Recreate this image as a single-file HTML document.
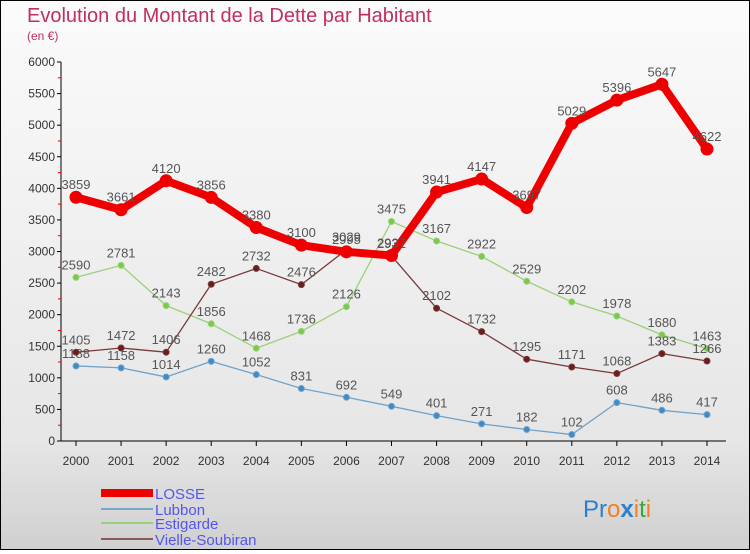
<!DOCTYPE html>
<html><head><meta charset="utf-8"><style>
body{margin:0;width:750px;height:550px;overflow:hidden;font-family:"Liberation Sans",sans-serif;}
#root{position:relative;width:748px;height:548px;border:1px solid #000;background:linear-gradient(#fbfbfb,#e6e6e6 80%,#d0d0d0);}
</style></head><body>
<div id="root">
<svg id="svg" width="748" height="548" xmlns="http://www.w3.org/2000/svg">
<text x="26" y="21" font-size="20" fill="#c0305a">Evolution du Montant de la Dette par Habitant</text>
<text x="26" y="39" font-size="12" fill="#c0305a">(en €)</text>
<g id="axes"></g><g id="series"></g>
<g>
<rect x="100" y="488" width="52" height="8" fill="#e00"/>
<text x="154" y="498" font-size="15" fill="#5555ee">LOSSE</text>
<line x1="100" y1="508" x2="152" y2="508" stroke="#7aa8c8" stroke-width="2"/>
<text x="154" y="514" font-size="15" fill="#5555ee">Lubbon</text>
<line x1="100" y1="522" x2="152" y2="522" stroke="#99d17a" stroke-width="2"/>
<text x="154" y="528" font-size="15" fill="#5555ee">Estigarde</text>
<line x1="100" y1="538" x2="152" y2="538" stroke="#8a5a5a" stroke-width="2"/>
<text x="154" y="544" font-size="15" fill="#5555ee">Vielle-Soubiran</text>
</g>
<g font-size="24" font-family="'Liberation Sans',sans-serif">
<text x="582" y="516"><tspan fill="#2a7fd0">Pr</tspan><tspan fill="#f08020">o</tspan><tspan fill="#2a7fd0" font-weight="bold">x</tspan><tspan fill="#f08020">i</tspan><tspan fill="#38a838">t</tspan><tspan fill="#f08020">i</tspan></text>
</g>
</svg>
</div>
<script>
const years=["2000","2001","2002","2003","2004","2005","2006","2007","2008","2009","2010","2011","2012","2013","2014"];
const yTicks=[0,500,1000,1500,2000,2500,3000,3500,4000,4500,5000,5500,6000];
const losse=[3859,3661,4120,3856,3380,3100,2995,2937,3941,4147,3697,5029,5396,5647,4622];
const lubbon=[1188,1158,1014,1260,1052,831,692,549,401,271,182,102,608,486,417];
const estigarde=[2590,2781,2143,1856,1468,1736,2126,3475,3167,2922,2529,2202,1978,1680,1463];
const vielle=[1405,1472,1406,2482,2732,2476,3029,2931,2102,1732,1295,1171,1068,1383,1266];
const NS="http://www.w3.org/2000/svg";
const X=i=>75+i*(706-75)/14;
const Y=v=>440-v*(440-61)/6000;
function mk(t,a,p){const e=document.createElementNS(NS,t);for(const k in a)e.setAttribute(k,a[k]);p.appendChild(e);return e;}
const ax=document.getElementById('axes');
mk('line',{x1:60,y1:Y(6000),x2:60,y2:440,stroke:'#000'},ax);
mk('line',{x1:60,y1:440,x2:725,y2:440,stroke:'#000'},ax);
yTicks.forEach(v=>{
 mk('line',{x1:56,y1:Y(v),x2:60,y2:Y(v),stroke:'#000'},ax);
 if(v<6000)mk('line',{x1:57,y1:Y(v+250),x2:60,y2:Y(v+250),stroke:'#e00'},ax);
 const t=mk('text',{x:54,y:Y(v)+4,'font-size':12,fill:'#333','text-anchor':'end'},ax);
 
 
 t.textContent=v;
});
years.forEach((y,i)=>{
 mk('line',{x1:X(i),y1:440,x2:X(i),y2:445,stroke:'#000'},ax);
 const t=mk('text',{x:X(i),y:464,'font-size':12,fill:'#333','text-anchor':'middle'},ax);
 
 
 t.textContent=y;
});
const sg=document.getElementById('series');
function draw(name,data,color,w,r,dot){
 const g=mk('g',{},sg);
 
 
 mk('polyline',{points:data.map((v,i)=>X(i)+','+Y(v)).join(' '),fill:'none',stroke:color,'stroke-width':w,'stroke-linejoin':'round'},g);
 data.forEach((v,i)=>{
  const c=mk('circle',{cx:X(i),cy:Y(v),r:r,fill:dot,stroke:color,'stroke-width':1},g);
  
  
  const t=mk('text',{x:X(i),y:Y(v)-8,'font-size':13,fill:'#555','text-anchor':'middle'},g);
  
  
  t.textContent=v;
 });
}
draw('lubbon',lubbon,'#6fa3cc',1.3,3,'#3d8bc9');
draw('estigarde',estigarde,'#99d17a',1.3,3,'#7cc84a');
draw('vielle-soubiran',vielle,'#7a3a3a',1.3,3,'#6a1d1d');
draw('losse',losse,'#ee0000',8,6,'#ee0000');
</script>
</body></html>
